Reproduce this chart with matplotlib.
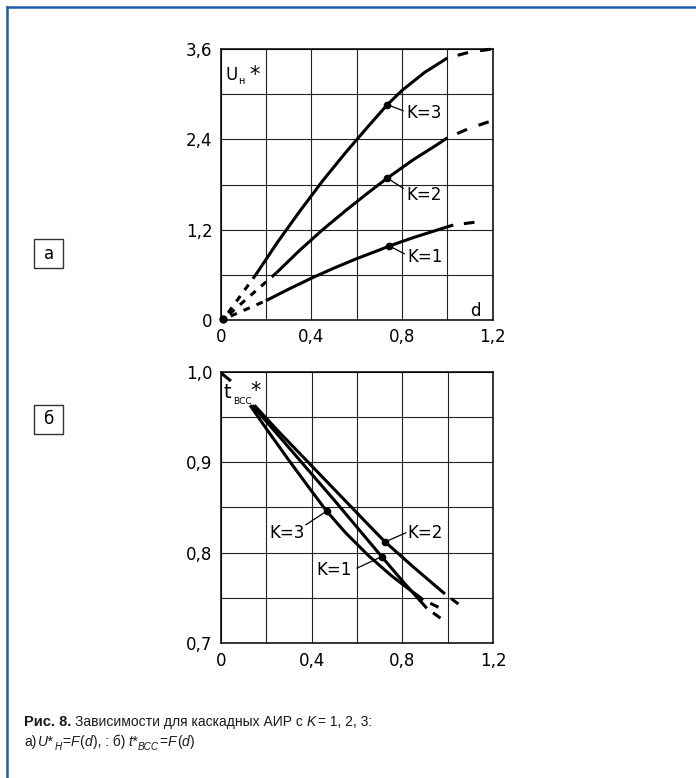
import numpy as np
import matplotlib
matplotlib.use("Agg")
import matplotlib.pyplot as plt
from matplotlib.lines import Line2D
from matplotlib.patches import Rectangle

# --- data: a) U*_H = F(d) ---
u_k1_x = [0.20, 0.30, 0.40, 0.50, 0.60, 0.70, 0.744, 0.85, 0.95, 1.026]
u_k1_y = [0.257, 0.41, 0.555, 0.69, 0.815, 0.93, 0.983, 1.095, 1.19, 1.262]
u_k2_x = [0.247, 0.35, 0.45, 0.55, 0.65, 0.735, 0.85, 0.95, 1.00]
u_k2_y = [0.63, 0.93, 1.20, 1.45, 1.69, 1.885, 2.13, 2.32, 2.42]
u_k3_x = [0.156, 0.25, 0.35, 0.45, 0.55, 0.65, 0.735, 0.80, 0.90, 1.00]
u_k3_y = [0.607, 1.03, 1.45, 1.85, 2.22, 2.57, 2.86, 3.05, 3.29, 3.48]

# dashed parts (near origin and past d = 1)
u_head_x = [[0.012, 0.20], [0.012, 0.247], [0.012, 0.156]]
u_head_y = [[0.01, 0.257], [0.01, 0.63], [0.01, 0.607]]
u_tail_x = [[1.026, 1.125], [1.00, 1.10, 1.19], [1.00, 1.10, 1.20]]
u_tail_y = [[1.262, 1.30], [2.42, 2.55, 2.64], [3.48, 3.56, 3.60]]

u_mark_x = [0.744, 0.735, 0.735]
u_mark_y = [0.983, 1.885, 2.86]
u_lab_x = [0.825, 0.82, 0.82]
u_lab_y = [0.84, 1.66, 2.745]
u_lead_x = [0.81, 0.805, 0.805]
u_lead_y = [0.88, 1.75, 2.78]

# --- data: б) t*_BCC = F(d) ---
t_k1_x = [0.138, 0.30, 0.50, 0.709, 0.80, 0.908]
t_k1_y = [0.963, 0.916, 0.858, 0.7957, 0.769, 0.7387]
t_k2_x = [0.147, 0.25, 0.40, 0.55, 0.65, 0.724, 0.85, 0.988]
t_k2_y = [0.963, 0.935, 0.896, 0.857, 0.831, 0.812, 0.784, 0.7545]
t_k3_x = [0.128, 0.20, 0.30, 0.40, 0.466, 0.55, 0.65, 0.75, 0.82, 0.893]
t_k3_y = [0.963, 0.937, 0.902, 0.868, 0.846, 0.822, 0.797, 0.775, 0.7615, 0.748]

t_tail_x = [[0.908, 0.978], [0.988, 1.055], [0.893, 0.974]]
t_tail_y = [[0.7387, 0.726], [0.7545, 0.742], [0.748, 0.738]]
t_start_x = [0.003, 0.044]
t_start_y = [0.998, 0.9897]

t_mark_x = [0.709, 0.724, 0.466]
t_mark_y = [0.7957, 0.812, 0.846]
t_lab_x = [0.577, 0.822, 0.371]
t_lab_y = [0.781, 0.8215, 0.8215]
t_lab_ha = ['right', 'left', 'right']
t_lead_x = [0.60, 0.815, 0.375]
t_lead_y = [0.783, 0.822, 0.831]

k_labels = ['K=1', 'K=2', 'K=3']
x_ticks = [0, 0.4, 0.8, 1.2]
x_ticklabels = ['0', '0,4', '0,8', '1,2']
u_ticks = [0, 1.2, 2.4, 3.6]
u_ticklabels = ['0', '1,2', '2,4', '3,6']
t_ticks = [0.7, 0.8, 0.9, 1.0]
t_ticklabels = ['0,7', '0,8', '0,9', '1,0']

plt.rcParams['font.family'] = ['DejaVu Sans']

W, H = 696, 778
fig = plt.figure(figsize=(W / 100, H / 100), dpi=100)

LW = 2.2
FS = 12


def setup(ax, ylim, yticks, yticklabels, ystep):
    ax.set_xlim(0, 1.2)
    ax.set_ylim(*ylim)
    ax.set_xticks(x_ticks)
    ax.set_xticklabels(x_ticklabels, fontsize=FS)
    ax.set_yticks(yticks)
    ax.set_yticklabels(yticklabels, fontsize=FS)
    ax.set_xticks(np.arange(0, 1.21, 0.2), minor=True)
    ax.set_yticks(np.arange(ylim[0], ylim[1] + 1e-9, ystep), minor=True)
    ax.tick_params(which='both', length=0, pad=6)
    ax.grid(True, which='both', color='#222222', lw=0.8)
    for s in ax.spines.values():
        s.set_linewidth(1.1)
    ax.set_axisbelow(True)


# a)
ax1 = fig.add_axes([220.7 / W, 1 - 320 / H, 272 / W, 271 / H])
setup(ax1, (0, 3.6), u_ticks, u_ticklabels, 0.6)
for xs, ys in [(u_k1_x, u_k1_y), (u_k2_x, u_k2_y), (u_k3_x, u_k3_y)]:
    ax1.plot(xs, ys, color='black', lw=LW, solid_capstyle='butt', solid_joinstyle='round')
for xs, ys in zip(u_head_x, u_head_y):
    ax1.plot(xs, ys, color='black', lw=LW, linestyle=(2, (2.2, 2.4)), clip_on=False)
for xs, ys in zip(u_tail_x, u_tail_y):
    ax1.plot(xs, ys, color='black', lw=LW, linestyle=(4, (3.5, 4)), clip_on=False)
ax1.plot([0.012], [0.01], 'o', color='black', ms=5, clip_on=False)
ax1.plot(u_mark_x, u_mark_y, 'o', color='black', ms=4.5, linestyle='none')
for mx, my, lx, ly, lab_x, lab_y, lab in zip(u_mark_x, u_mark_y, u_lead_x, u_lead_y,
                                              u_lab_x, u_lab_y, k_labels):
    ax1.plot([mx, lx], [my, ly], color='black', lw=0.9)
    ax1.text(lab_x, lab_y, lab, fontsize=FS, ha='left', va='center')
ax1.text(0.023, 3.19, 'U', fontsize=FS, ha='left', va='baseline')
ax1.text(0.078, 3.13, 'н', fontsize=7, ha='left', va='baseline')
ax1.text(0.125, 3.17, '*', fontsize=15, ha='left', va='baseline')
ax1.text(1.10, 0.05, 'd', fontsize=FS, ha='left', va='baseline')

# б)
ax2 = fig.add_axes([221 / W, 1 - 643.3 / H, 272 / W, 271.6 / H])
setup(ax2, (0.7, 1.0), t_ticks, t_ticklabels, 0.05)
for xs, ys in [(t_k1_x, t_k1_y), (t_k2_x, t_k2_y), (t_k3_x, t_k3_y)]:
    ax2.plot(xs, ys, color='black', lw=LW, solid_capstyle='butt', solid_joinstyle='round')
for xs, ys in zip(t_tail_x, t_tail_y):
    ax2.plot(xs, ys, color='black', lw=LW, linestyle=(3.5, (3, 3)))
ax2.plot(t_start_x, t_start_y, color='black', lw=LW, solid_capstyle='butt')
ax2.plot(t_mark_x, t_mark_y, 'o', color='black', ms=4.5, linestyle='none')
for mx, my, lx, ly, lab_x, lab_y, ha, lab in zip(t_mark_x, t_mark_y, t_lead_x, t_lead_y,
                                                  t_lab_x, t_lab_y, t_lab_ha, k_labels):
    ax2.plot([mx, lx], [my, ly], color='black', lw=0.9)
    ax2.text(lab_x, lab_y, lab, fontsize=FS, ha=ha, va='center')
ax2.text(0.01, 0.971, 't', fontsize=14, ha='left', va='baseline')
ax2.text(0.052, 0.9643, 'ВСС', fontsize=6.5, ha='left', va='baseline')
ax2.text(0.13, 0.972, '*', fontsize=15, ha='left', va='baseline')

# panel tags
for cy, tag in [(253.8, 'а'), (419, 'б')]:
    fig.patches.append(Rectangle((34.3 / W, 1 - (cy + 14.5) / H), 29 / W, 29 / H,
                                 transform=fig.transFigure, fill=False,
                                 edgecolor='#333333', lw=1.0))
    fig.text(48.8 / W, 1 - cy / H, tag, fontsize=FS, ha='center', va='center')

# frame
fig.add_artist(Line2D([7 / W, 1], [1 - 7 / H, 1 - 7 / H], color='#1f5da6', lw=1.8))
fig.add_artist(Line2D([7 / W, 7 / W], [0, 1 - 7 / H], color='#1f5da6', lw=1.8))

# caption, written piece by piece so italics and subscripts line up
CAP_FONT = 'Liberation Sans'
CAP_FS = 10
renderer = fig.canvas.get_renderer()


def run(x_px, y_px, pieces):
    x = x_px
    for text, style, size, dy, gap in pieces:
        kw = dict(family=CAP_FONT, fontsize=CAP_FS * size, color='#1a1a1a',
                  ha='left', va='baseline')
        if 'b' in style:
            kw['weight'] = 'bold'
        if 'i' in style:
            kw['style'] = 'italic'
        t = fig.text(x / W, 1 - (y_px + dy) / H, text, **kw)
        x = t.get_window_extent(renderer).x1 + gap


run(24, 726, [
    ('Рис. 8.', 'b', 1.05, 0, 4),
    ('Зависимости для каскадных АИР с', '', 1, 0, 3),
    ('K', 'i', 1, 0, 2),
    ('= 1, 2, 3:', '', 1, 0, 0),
])
run(24, 746, [
    ('а)', '', 1, 0, 2),
    ('U*', 'i', 1, 0, 0.5),
    ('H', 'i', 0.72, 4, 0.5),
    ('=', '', 1, 0, 0.5),
    ('F', 'i', 1, 0, 0.5),
    ('(', '', 1, 0, 0.3),
    ('d', 'i', 1, 0, 0.3),
    ('), : б)', '', 1, 0, 3),
    ('t*', 'i', 1, 0, 0.5),
    ('BCC', 'i', 0.72, 4, 0.5),
    ('=', '', 1, 0, 0.5),
    ('F', 'i', 1, 0, 0.5),
    ('(', '', 1, 0, 0.3),
    ('d', 'i', 1, 0, 0.3),
    (')', '', 1, 0, 0),
])

fig.savefig('out.png', dpi=100)
